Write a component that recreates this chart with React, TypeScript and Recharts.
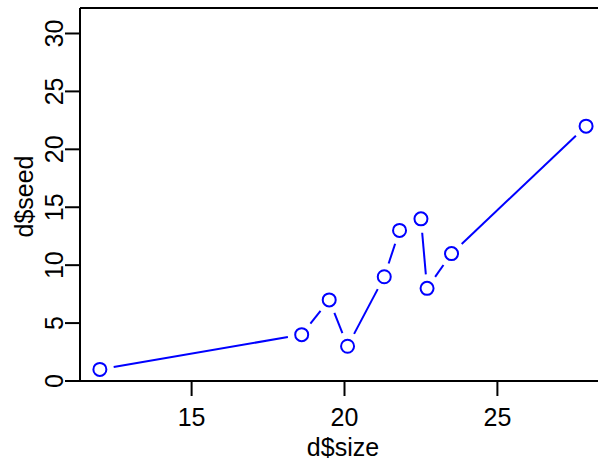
import React from "react";
import {
  ScatterChart,
  Scatter,
  XAxis,
  YAxis,
  ReferenceLine,
} from "recharts";

// d$size vs d$seed
const sizes = [12.0, 18.6, 19.5, 20.1, 21.3, 21.8, 22.5, 22.7, 23.5, 27.9];
const seeds = [1, 4, 7, 3, 9, 13, 14, 8, 11, 22];

const xTicks = [15, 20, 25];
const yTicks = [0, 5, 10, 15, 20, 25, 30];
const xDomain = [11.35, 28.29];
const yDomain = [0, 32.2];

const data = sizes.map((size, i) => ({ size, seed: seeds[i] }));

const BLUE = "#0000FF";
const INK = "#000000";
const FONT = "'Liberation Sans', Arial, Helvetica, sans-serif";
const FONT_SIZE = 25;
const GAP = 14; // R type="b" leaves a gap round each point

function GappedLine(props: any) {
  const pts: { x: number; y: number }[] = props.points ?? [];
  const segs = pts.slice(1).map((b, i) => {
    const a = pts[i];
    const dx = b.x - a.x;
    const dy = b.y - a.y;
    const len = Math.hypot(dx, dy);
    if (len <= GAP * 2) return null;
    const ux = dx / len;
    const uy = dy / len;
    return (
      <line
        key={i}
        x1={a.x + ux * GAP}
        y1={a.y + uy * GAP}
        x2={b.x - ux * GAP}
        y2={b.y - uy * GAP}
        stroke={BLUE}
        strokeWidth={2}
      />
    );
  });
  return <g>{segs}</g>;
}

function OpenCircle(props: any) {
  return (
    <circle cx={props.cx} cy={props.cy} r={6.5} fill="none" stroke={BLUE} strokeWidth={2} />
  );
}

function XTick({ x, y, payload }: any) {
  return (
    <text x={x} y={y + 28} textAnchor="middle" fontSize={FONT_SIZE} fontFamily={FONT} fill={INK}>
      {payload.value}
    </text>
  );
}

function YTick({ x, y, payload }: any) {
  return (
    <text
      x={x}
      y={y}
      transform={`rotate(-90, ${x}, ${y})`}
      textAnchor="middle"
      fontSize={FONT_SIZE}
      fontFamily={FONT}
      fill={INK}
    >
      {payload.value}
    </text>
  );
}

export default function App() {
  return (
    <div style={{ position: "absolute", left: 0, top: 0, width: 598, height: 463, background: "#fff" }}>
      <ScatterChart width={598} height={463} margin={{ top: 8, right: 0, bottom: 0, left: 0 }}>
        <XAxis
          type="number"
          dataKey="size"
          domain={xDomain}
          ticks={xTicks}
          allowDataOverflow
          height={82}
          tickSize={15}
          tickMargin={2}
          axisLine={{ stroke: INK, strokeWidth: 2 }}
          tickLine={{ stroke: INK, strokeWidth: 2 }}
          tick={<XTick />}
          label={{
            content: ({ viewBox }: any) => (
              <text
                x={viewBox.x + viewBox.width / 2 + 4}
                y={456}
                textAnchor="middle"
                fontSize={FONT_SIZE}
                fontFamily={FONT}
                fill={INK}
              >
                d$size
              </text>
            ),
          }}
        />
        <YAxis
          type="number"
          dataKey="seed"
          domain={yDomain}
          ticks={yTicks}
          allowDataOverflow
          width={80}
          tickSize={15}
          tickMargin={2}
          axisLine={{ stroke: INK, strokeWidth: 2 }}
          tickLine={{ stroke: INK, strokeWidth: 2 }}
          tick={<YTick />}
          label={{
            content: ({ viewBox }: any) => {
              const cx = viewBox.x + 33;
              const cy = viewBox.y + viewBox.height / 2 + 2;
              return (
                <text
                  x={cx}
                  y={cy}
                  transform={`rotate(-90, ${cx}, ${cy})`}
                  textAnchor="middle"
                  fontSize={FONT_SIZE}
                  fontFamily={FONT}
                  fill={INK}
                >
                  d$seed
                </text>
              );
            },
          }}
        />
        <ReferenceLine y={yDomain[1]} stroke={INK} strokeWidth={2} />
        <Scatter
          data={data}
          line={GappedLine}
          lineType="joint"
          shape={OpenCircle}
          fill={BLUE}
          isAnimationActive={false}
        />
      </ScatterChart>
    </div>
  );
}
